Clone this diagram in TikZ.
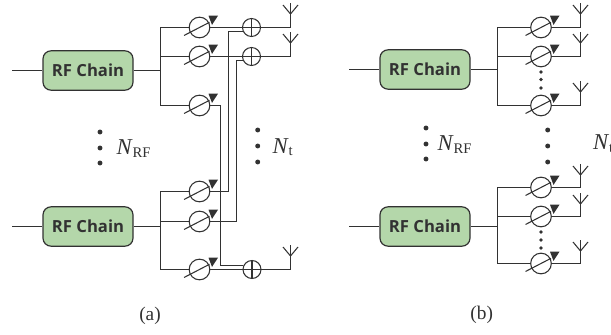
\documentclass[tikz,border=0pt]{standalone}
\usepackage{fontspec}
\setmainfont{Liberation Serif}
\newfontfamily\boxfont{Open Sans}
\usetikzlibrary{calc}
\definecolor{chain}{RGB}{180,215,170}
\definecolor{wire}{RGB}{50,50,50}
\tikzset{%
  rfchain/.style={draw=wire, fill=chain, line width=0.9pt, rounded corners=6pt, minimum width=67.5pt,
    minimum height=29.5pt, inner sep=0pt, font=\boxfont\bfseries\fontsize{12.5}{14}\selectfont, text=wire},% RF chain block
  shiftcirc/.style={draw=wire, circle, line width=0.8pt, minimum size=15.5pt, inner sep=0pt},% phase shifter body
  addcirc/.style={draw=wire, circle, line width=0.8pt, minimum size=13.5pt, inner sep=0pt},% adder body
  vdot/.style={circle, fill=wire, minimum size=3.7pt, inner sep=0pt},% big dots
  sdot/.style={circle, fill=wire, minimum size=2.9pt, inner sep=0pt},% small dots
  lbl/.style={font=\fontsize{17}{19}\selectfont, inner sep=0pt, text=wire},% N labels
  subcap/.style={font=\fontsize{14.5}{16}\selectfont, inner sep=0pt, text=wire}% (a), (b)
}
\newcommand*{\shifter}[3]{
  \node[shiftcirc] (#1) at (#2,#3) {};
  \draw[wire, line width=0.8pt] ($(#1)+(-15.5,8)$) -- ($(#1)+(10,-5.2)$);
  \fill[wire] ($(#1)+(9,-11.8)$) -- ($(#1)+(18.5,-11.8)$) -- ($(#1)+(12.5,-2.6)$) -- cycle;
}
\newcommand*{\adder}[3]{
  \node[addcirc] (#1) at (#2,#3) {};
  \draw[wire, line width=0.8pt] (#1.north) -- (#1.south) (#1.west) -- (#1.east);
}
\newcommand*{\antenna}[3]{
  \coordinate (#1) at (#2,#3);
  \draw[wire, line width=0.8pt] ($(#1)+(-7.5,2)$) -- ($(#1)+(0,11)$) -- ($(#1)+(7.5,2)$);
}
\newcommand*{\Nsub}[1]{\textit{N}\raisebox{-0.25ex}{\fontsize{11}{12}\selectfont #1}}

\begin{document}
\begin{tikzpicture}[x=0.75pt, y=-0.75pt, line width=0.8pt, draw=wire]
\useasboundingbox (0,0) rectangle (611,335);

% (a) blocks
\node[rfchain] (arf1) at (88,70.5) {RF Chain};
\node[rfchain] (arf2) at (88,226.5) {RF Chain};
\coordinate (ain1) at (12,70.5);
\coordinate (ain2) at (12,226.5);
\coordinate (abus1) at (160.5,70.5);
\coordinate (abus2) at (160.5,226.5);

\shifter{as1}{199.5}{27.5}
\shifter{as2}{199.5}{56.5}
\shifter{as3}{199.5}{105.5}
\shifter{as4}{199.5}{191.5}
\shifter{as5}{199.5}{221.5}
\shifter{as6}{199.5}{269.5}

\adder{aadd1}{251.5}{27.5}
\adder{aadd2}{251.5}{56.5}
\adder{aadd3}{252}{269.5}

\antenna{aant1}{290.5}{3}
\antenna{aant2}{290.5}{32}
\antenna{aant3}{290.5}{245}

\draw (ain1) -- (arf1) -- (abus1);
\draw (ain2) -- (arf2) -- (abus2);
\draw (as1) -| (abus1) |- (as3);
\draw (abus1) |- (as2);
\draw (as4) -| (abus2) |- (as6);
\draw (abus2) |- (as5);

\draw (as1) -- (aadd1) -| (aant1);
\draw (as2) -- (aadd2) -| (aant2);
\draw (as6) -- (aadd3) -| (aant3);

\draw (aadd1.205) -- ++(-14.1,0) |- (as4.east);
\draw (aadd2.205) -- ++(-6.1,0) |- (as5.east);
\draw (as3.east) -- ++(10.5,0) |- (aadd3.156);

\node[vdot] (adot1) at (100,132) {};
\node[vdot] (adot2) at (100,148) {};
\node[vdot] (adot3) at (100,163) {};
\node[lbl, anchor=base west] (anrf) at (116,155) {\Nsub{RF}};
\node[vdot] (adot4) at (257.7,130) {};
\node[vdot] (adot5) at (257.7,146) {};
\node[vdot] (adot6) at (257.7,162) {};
\node[lbl, anchor=base west] (ant) at (272,153) {\Nsub{t}};
\node[subcap] (acap) at (150,316) {(a)};

% (b) blocks
\node[rfchain] (brf1) at (425,69.5) {RF Chain};
\node[rfchain] (brf2) at (425,226.5) {RF Chain};
\coordinate (bin1) at (349,69.5);
\coordinate (bin2) at (349,226.5);
\coordinate (bbus1) at (497.5,69.5);
\coordinate (bbus2) at (497.5,226.5);

\shifter{bs1}{541}{27.5}
\shifter{bs2}{541}{56.5}
\shifter{bs3}{541}{105.5}
\shifter{bs4}{541}{187.5}
\shifter{bs5}{541}{216.5}
\shifter{bs6}{541}{263.5}

\antenna{bant1}{580.5}{3}
\antenna{bant2}{580.5}{32}
\antenna{bant3}{580.5}{81}
\antenna{bant4}{580.5}{164}
\antenna{bant5}{580.5}{193}
\antenna{bant6}{580.5}{240}

\draw (bin1) -- (brf1) -- (bbus1);
\draw (bin2) -- (brf2) -- (bbus2);
\draw (bs1) -| (bbus1) |- (bs3);
\draw (bbus1) |- (bs2);
\draw (bs4) -| (bbus2) |- (bs6);
\draw (bbus2) |- (bs5);

\draw (bs1) -| (bant1);
\draw (bs2) -| (bant2);
\draw (bs3) -| (bant3);
\draw (bs4) -| (bant4);
\draw (bs5) -| (bant5);
\draw (bs6) -| (bant6);

\node[sdot] (bsd1) at (541,72) {};
\node[sdot] (bsd2) at (541,79.5) {};
\node[sdot] (bsd3) at (541,88) {};
\node[sdot] (bsd4) at (541,232) {};
\node[sdot] (bsd5) at (541,240) {};
\node[sdot] (bsd6) at (541,248) {};

\node[vdot] (bdot1) at (426,128) {};
\node[vdot] (bdot2) at (426,144) {};
\node[vdot] (bdot3) at (426,159) {};
\node[lbl, anchor=base west] (bnrf) at (437,151) {\Nsub{RF}};
\node[vdot] (bdot4) at (547.7,130) {};
\node[vdot] (bdot5) at (547.7,146) {};
\node[vdot] (bdot6) at (547.7,162) {};
\node[lbl, anchor=base west] (bnt) at (592.5,150) {\Nsub{t}};
\node[subcap] (bcap) at (481.7,315) {(b)};
\end{tikzpicture}
\end{document}
